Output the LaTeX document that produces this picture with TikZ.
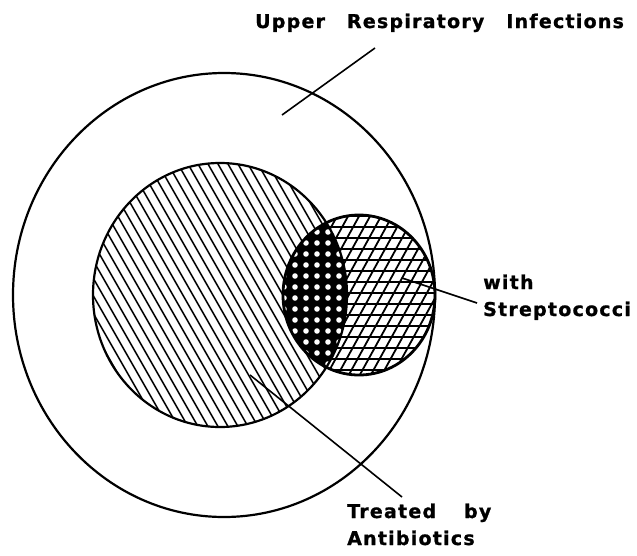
\documentclass[tikz,border=0pt]{standalone}
\usepackage{fontspec}
\setmainfont{DejaVu Sans}
\newfontfamily\lblfont[LetterSpace=6.5,WordSpace=2.8,FakeBold=1]{DejaVu Sans Bold}

\begin{document}
\begin{tikzpicture}[
      x=1pt, y=-1pt,
      outline/.style={line width=2.2pt},
      hatch/.style={line width=1.5pt},
      leader/.style={line width=1.6pt},
      lbl/.style={font=\lblfont\fontsize{19}{27}\selectfont, align=left, inner sep=0pt, anchor=base west}
    ]
      \useasboundingbox (0,0) rectangle (637,555);

      % Centres
      \coordinate (uri) at (224,295);
      \coordinate (anti) at (220,295);
      \coordinate (strep) at (359,295);

      % Antibiotics hatching
      \begin{scope}
        \clip (anti) ellipse [x radius=127, y radius=132];
        \foreach \x in {-70,-60,...,360}
          \draw[hatch] (\x-100,-25) -- (\x+200,500);
      \end{scope}

      % Streptococci cross hatching
      \begin{scope}
        \clip (strep) ellipse [x radius=76, y radius=80];
        \foreach \y in {205,216,...,385}
          \draw[hatch] (270,\y) -- (450,\y);
        \foreach \x in {170,181,...,430}
          \draw[hatch, line width=1.8pt] (\x,400) -- (\x+110,200);
      \end{scope}

      % Overlap
      \begin{scope}
        \clip (anti) ellipse [x radius=127, y radius=132];
        \clip (strep) ellipse [x radius=76, y radius=80];
        \fill (270,200) rectangle (360,390);
        \foreach \x in {284,295,...,350}
          \foreach \y in {210,221,...,385}
            \fill[white] (\x,\y) circle (2.8);
      \end{scope}

      % Outlines
      \draw[outline] (uri) ellipse [x radius=211, y radius=222];
      \draw[outline] (anti) ellipse [x radius=127, y radius=132];
      \draw[outline, line width=2.8pt] (strep) ellipse [x radius=76, y radius=80];

      % Labels
      \node[lbl] (urilbl) at (255,28) {Upper Respiratory Infections};
      \node[lbl] (streplbl) at (483,316) {with\\Streptococci};
      \node[lbl] (antilbl) at (347,545) {Treated\hspace{6pt} by\\Antibiotics};

      % Leaders
      \coordinate (uriin) at (282,115);
      \coordinate (uriout) at (375,48);
      \coordinate (strepin) at (402,278);
      \coordinate (strepout) at (477,303);
      \coordinate (antiin) at (250,375);
      \coordinate (antiout) at (402,497);
      \draw[leader] (uriin) -- (uriout);
      \draw[leader] (strepin) -- (strepout);
      \draw[leader] (antiin) -- (antiout);

    \end{tikzpicture}
\end{document}
